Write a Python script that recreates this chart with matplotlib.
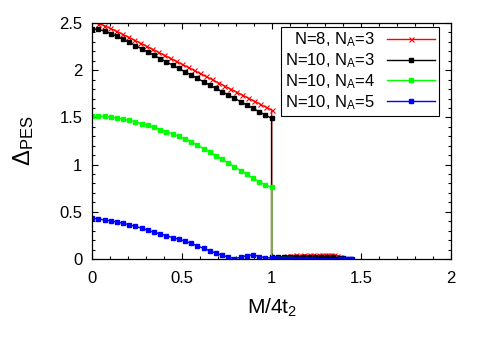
import matplotlib
matplotlib.use("Agg")
import matplotlib.pyplot as plt
from matplotlib.ticker import MultipleLocator

plt.rcParams['font.family'] = ['Liberation Sans', 'DejaVu Sans']
plt.rcParams['mathtext.fontset'] = 'custom'
plt.rcParams['mathtext.rm'] = 'Liberation Sans'
plt.rcParams['mathtext.it'] = 'Liberation Sans:italic'

# N=8, NA=3 (red)
x_red = [0.0333, 0.0667, 0.1, 0.1333, 0.1667, 0.2, 0.2333, 0.2667, 0.3, 0.3333,
         0.3667, 0.4, 0.4333, 0.4667, 0.5, 0.5333, 0.5667, 0.6, 0.6333, 0.6667,
         0.7, 0.7333, 0.7667, 0.8, 0.8333, 0.8667, 0.9, 0.9333, 0.9667, 1.0,
         1.0, 1.0167, 1.0333, 1.05, 1.0667, 1.0833, 1.1, 1.1167, 1.1333, 1.15,
         1.1667, 1.1833, 1.2, 1.2167, 1.2333, 1.25, 1.2667, 1.2833, 1.3, 1.3167,
         1.3333, 1.35, 1.3667, 1.3833]
y_red = [2.495, 2.473, 2.445, 2.415, 2.384, 2.353, 2.321, 2.289, 2.258, 2.225,
         2.193, 2.161, 2.129, 2.097, 2.064, 2.032, 2.0, 1.967, 1.935, 1.903,
         1.870, 1.838, 1.805, 1.773, 1.741, 1.708, 1.676, 1.643, 1.611, 1.579,
         0.012, 0.013, 0.015, 0.018, 0.024, 0.033, 0.036, 0.035, 0.038, 0.036,
         0.037, 0.039, 0.036, 0.038, 0.040, 0.037, 0.041, 0.039, 0.042, 0.040,
         0.043, 0.040, 0.036, 0.025]

# shared grid below the transition
x_low = [0.0, 0.0345, 0.069, 0.1034, 0.1379, 0.1724, 0.2069, 0.2414, 0.2759, 0.3103,
         0.3448, 0.3793, 0.4138, 0.4483, 0.4828, 0.5172, 0.5517, 0.5862, 0.6207, 0.6552,
         0.6897, 0.7241, 0.7586, 0.7931, 0.8276, 0.8621, 0.8966, 0.9310, 0.9655, 1.0]

# N=10, NA=3 (black)
y_blk_low = [2.44, 2.433, 2.414, 2.388, 2.358, 2.327, 2.294, 2.261, 2.227, 2.193,
             2.158, 2.123, 2.089, 2.054, 2.019, 1.984, 1.949, 1.914, 1.878, 1.843,
             1.808, 1.773, 1.737, 1.702, 1.667, 1.631, 1.596, 1.561, 1.525, 1.49]
x_blk_high = [1.0, 1.0345, 1.069, 1.1034, 1.1379, 1.1724, 1.2069, 1.2414, 1.2759,
              1.3103, 1.3448, 1.3793, 1.40]
y_blk_high = [0.020, 0.020, 0.021, 0.020, 0.022, 0.021, 0.020, 0.022, 0.021,
              0.020, 0.019, 0.015, 0.008]

# N=10, NA=4 (green)
y_grn_low = [1.518, 1.517, 1.511, 1.503, 1.494, 1.482, 1.468, 1.452, 1.434, 1.415,
             1.394, 1.372, 1.350, 1.325, 1.300, 1.272, 1.240, 1.205, 1.170, 1.133,
             1.095, 1.057, 1.018, 0.977, 0.936, 0.896, 0.857, 0.820, 0.787, 0.759]
x_grn_high = [1.0, 1.0345, 1.069, 1.1034]
y_grn_high = [0.005, 0.004, 0.004, 0.004]

# N=10, NA=5 (blue)
y_blu_low = [0.434, 0.424, 0.414, 0.404, 0.392, 0.379, 0.362, 0.346, 0.327, 0.305,
             0.282, 0.266, 0.247, 0.226, 0.210, 0.190, 0.166, 0.140, 0.112, 0.089,
             0.062, 0.041, 0.020, 0.005, 0.018, 0.036, 0.045, 0.026, 0.015, 0.010]
x_blu_high = [1.012, 1.024, 1.036, 1.048, 1.06, 1.072, 1.084, 1.096, 1.12, 1.146,
              1.173, 1.2, 1.23, 1.38, 1.39, 1.40, 1.41, 1.42, 1.43, 1.44, 1.45]
y_blu_high = [0.006, 0.005, 0.005, 0.004, 0.005, 0.004, 0.004, 0.005, 0.004, 0.004,
              0.005, 0.004, 0.004, 0.004, 0.005, 0.004, 0.004, 0.004, 0.005, 0.004, 0.004]

# figure space in front of the first label keeps the texts right-aligned like gnuplot
labels = ['\u2007' + r'N=8, N$_{\mathrm{A}}$=3', r'N=10, N$_{\mathrm{A}}$=3',
          r'N=10, N$_{\mathrm{A}}$=4', r'N=10, N$_{\mathrm{A}}$=5']

fig = plt.figure(figsize=(4.85, 3.39), dpi=100)
ax = fig.add_axes([0.19, 0.236, 0.74, 0.696])

ax.plot(x_red, y_red, color='#ff0000', lw=1, marker='x', ms=3.6, mew=0.8, label=labels[0])
ax.plot(x_low + x_blk_high, y_blk_low + y_blk_high, color='black', lw=1,
        marker='s', ms=3.1, label=labels[1])
ax.plot(x_low + x_grn_high, y_grn_low + y_grn_high, color='#00ff00', lw=1,
        marker='s', ms=3.1, label=labels[2])
ax.plot(x_low + x_blu_high, y_blu_low + y_blu_high, color='#0000ff', lw=1,
        marker='s', ms=3.1, label=labels[3])

ax.set_xlim(0, 2)
ax.set_ylim(0, 2.5)
ax.xaxis.set_major_locator(MultipleLocator(0.5))
ax.xaxis.set_minor_locator(MultipleLocator(0.1))
ax.yaxis.set_major_locator(MultipleLocator(0.5))
ax.yaxis.set_minor_locator(MultipleLocator(0.1))
ax.xaxis.set_major_formatter(plt.FuncFormatter(lambda v, p: f"{v:g}"))
ax.yaxis.set_major_formatter(plt.FuncFormatter(lambda v, p: f"{v:g}"))
ax.tick_params(which='both', direction='in', top=True, right=True, labelsize=12)
ax.tick_params(axis='y', which='both', pad=7)
ax.tick_params(axis='x', which='both', pad=9)
ax.tick_params(which='major', length=4.5, width=0.8)
ax.tick_params(which='minor', length=2.5, width=0.8)
for s in ax.spines.values():
    s.set_linewidth(0.9)

ax.set_xlabel(r'M/4t$_{\mathrm{2}}$', fontsize=15, labelpad=7)
ax.set_ylabel(r'$\Delta_{\mathrm{PES}}$', fontsize=17, labelpad=17)

leg = ax.legend(loc='upper right', bbox_to_anchor=(0.967, 0.985), borderaxespad=0,
                fancybox=False, edgecolor='black', framealpha=1, fontsize=12,
                markerfirst=False, handlelength=2.9, labelspacing=0.12,
                borderpad=0.25, handletextpad=0.7)
leg.get_frame().set_linewidth(0.8)

fig.savefig("out.png", dpi=100)
